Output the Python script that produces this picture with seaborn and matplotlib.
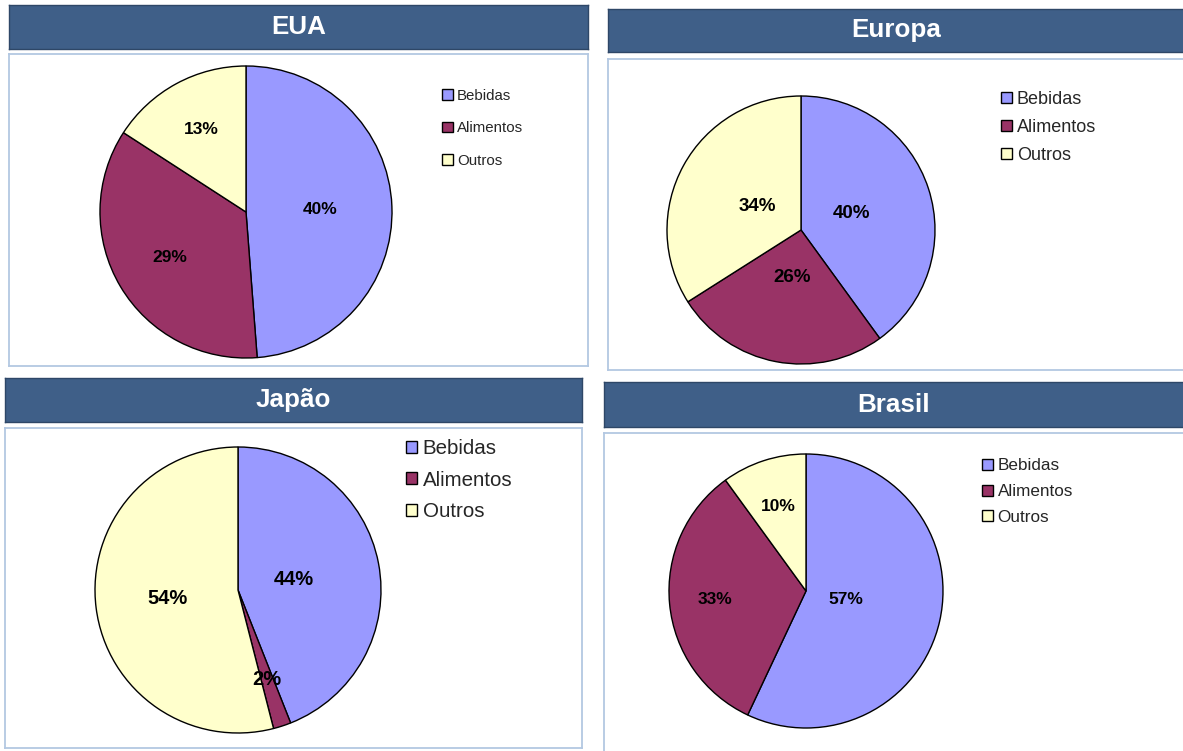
import matplotlib
matplotlib.use("Agg")
import matplotlib.pyplot as plt
import seaborn as sns
import numpy as np
from matplotlib import font_manager

# ---------------- data ----------------
categories = ["Bebidas", "Alimentos", "Outros"]
regions = ["EUA", "Europa", "Japão", "Brasil"]
eua_values = [40, 29, 13]
europa_values = [40, 26, 34]
japao_values = [44, 2, 54]
brasil_values = [57, 33, 10]
slice_colors = ["#9999FF", "#993366", "#FFFFCC"]

# ---------------- style ----------------
sns.set_theme(style="white")
plt.rcParams['font.family'] = ['Liberation Sans', 'DejaVu Sans']

avail = {f.name for f in font_manager.fontManager.ttflist}
narrow = 'Liberation Sans Narrow' if 'Liberation Sans Narrow' in avail else 'Liberation Sans'

HEADER = "#3F5F88"
HEADER_EDGE = "#2E4767"
BOX_EDGE = "#B3C8E2"

W, H = 1183, 751
fig = plt.figure(figsize=(W / 100, H / 100), dpi=100)
fig.patch.set_facecolor("white")


def px_axes(x0, y0, x1, y1, z=0):
    return fig.add_axes([x0 / W, 1 - y1 / H, (x1 - x0) / W, (y1 - y0) / H], zorder=z)


layout = {
    "EUA": dict(header=(9, 5, 588, 49), box=(9, 54, 588, 366), pie=(246, 212, 146),
                leg=(442, 94, 32.5, 10.8), lab_fs=12.5, lab_font=narrow, dist=[0.51, 0.61, 0.64]),
    "Europa": dict(header=(608, 9, 1184, 52), box=(608, 59, 1184, 370), pie=(801, 230, 134),
                   leg=(1001, 97.5, 28, 13.0), lab_fs=13.5, lab_font='Liberation Sans', dist=[0.40, 0.36, 0.37]),
    "Japão": dict(header=(5, 378, 582, 422), box=(5, 428, 582, 748), pie=(238, 590, 143),
                  leg=(406, 447, 31.7, 14.8), lab_fs=14.5, lab_font='Liberation Sans', dist=[0.40, 0.66, 0.50]),
    "Brasil": dict(header=(604, 382, 1184, 427), box=(604, 433, 1184, 752), pie=(806, 591, 137),
                   leg=(982, 464.5, 26.8, 12.3), lab_fs=12.5, lab_font=narrow, dist=[0.30, 0.67, 0.65]),
}

values_by_region = {"EUA": eua_values, "Europa": europa_values,
                    "Japão": japao_values, "Brasil": brasil_values}

for region in regions:
    L = layout[region]
    vals = values_by_region[region]

    # header bar
    hx0, hy0, hx1, hy1 = L["header"]
    hax = px_axes(hx0, hy0, hx1, hy1, z=1)
    hax.set_facecolor(HEADER)
    hax.set_xticks([]); hax.set_yticks([])
    for s in hax.spines.values():
        s.set_edgecolor(HEADER_EDGE); s.set_linewidth(1.0)
    hax.text(0.5, 0.5, region, ha='center', va='center', color='white',
             fontweight='bold', fontsize=18.7, transform=hax.transAxes)

    # chart box
    bx0, by0, bx1, by1 = L["box"]
    bax = px_axes(bx0, by0, bx1, by1, z=1)
    bax.set_facecolor("white")
    bax.set_xticks([]); bax.set_yticks([])
    for s in bax.spines.values():
        s.set_edgecolor(BOX_EDGE); s.set_linewidth(1.3)

    # pie
    cx, cy, r = L["pie"]
    pax = px_axes(cx - r, cy - r, cx + r, cy + r, z=2)
    pax.set_axis_off()
    wedges, _ = pax.pie(vals, colors=slice_colors, startangle=90, counterclock=False,
                        radius=1.0, wedgeprops=dict(edgecolor='black', linewidth=1.0))
    pax.set_xlim(-1, 1); pax.set_ylim(-1, 1)
    pax.set_aspect('equal')
    for w, v, d in zip(wedges, vals, L["dist"]):
        th = np.deg2rad((w.theta1 + w.theta2) / 2)
        pax.text(d * np.cos(th), d * np.sin(th), f"{v}%", ha='center', va='center',
                 fontsize=L["lab_fs"], fontweight='bold', family=[L["lab_font"], 'DejaVu Sans'],
                 color='black')

    # legend
    lx, ly, spacing, fs = L["leg"]
    fs_px = fs * 100 / 72
    anchor_y = ly - 0.47 * fs_px + 2
    pax.legend(wedges, categories, loc='upper left',
               bbox_to_anchor=(lx / W, 1 - anchor_y / H), bbox_transform=fig.transFigure,
               frameon=False, borderpad=0, borderaxespad=0, fontsize=fs,
               handlelength=10.5 / fs_px, handleheight=10.5 / fs_px, handletextpad=0.3,
               labelspacing=max(spacing / fs_px - 0.94, 0.0))

fig.savefig("out.png", dpi=100, facecolor="white")
